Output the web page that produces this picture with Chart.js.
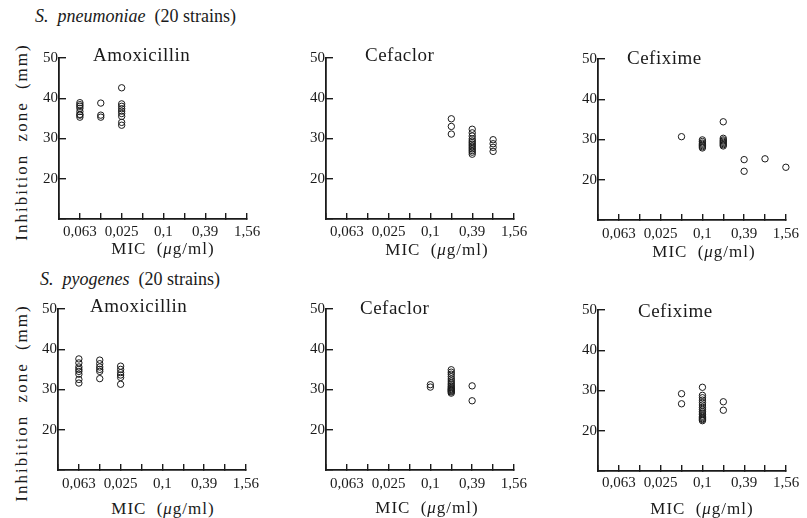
<!DOCTYPE html>
<html>
<head>
<meta charset="utf-8">
<script src="https://cdn.jsdelivr.net/npm/chart.js@4/dist/chart.umd.min.js"></script>
<style>
  html, body { margin:0; padding:0; background:#fff; }
  body { width:807px; height:518px; position:relative; overflow:hidden; font-family:"Liberation Serif","DejaVu Serif",serif; color:#1a1a1a; }
  .cv { position:absolute; }
  .txt { position:absolute; white-space:pre; line-height:1; }
  .ptitle { font-size:19px; letter-spacing:0.5px; transform:translateY(-50%); }
  .mic { font-size:17px; letter-spacing:1px; word-spacing:5px; transform:translate(-50%,-50%); }
  .ytitle { font-size:17px; letter-spacing:2px; word-spacing:6px; transform:translate(-50%,-50%) rotate(-90deg); }
  .org { font-size:18px; transform:translateY(-50%); }
</style>
</head>
<body>
<script>
// ---- tick labels ----
const micTickLabels = ['', '0,063', '', '0,025', '', '0,1', '', '0,39', '', '1,56'];
const zoneTicks = [10, 20, 30, 40, 50];

// ---- S. pneumoniae (20 strains) ----
const pnAmoxMic  = [1,1,1,1,1,1,1,1, 2,2,2, 3,3,3,3,3,3,3,3,3];
const pnAmoxZone = [38.9,38.4,38.0,37.5,36.7,36.0,35.8,35.3, 38.8,35.8,35.3, 42.6,38.6,38.0,37.4,36.8,36.2,35.5,34.0,33.3];

const pnCefaMic  = [6,6,6, 7,7,7,7,7,7,7,7,7,7,7,7,7, 8,8,8,8];
const pnCefaZone = [34.9,33.0,31.1, 32.3,31.4,30.6,29.9,29.4,29.0,28.6,28.2,27.8,27.4,27.0,26.6,26.1, 29.7,28.7,27.8,26.8];

const pnCefiMic  = [4, 5,5,5,5,5,5,5, 6,6,6,6,6,6,6,6, 7,7, 8, 9];
const pnCefiZone = [30.7, 29.9,29.5,29.1,28.8,28.5,28.2,27.9, 34.4,30.3,29.9,29.6,29.3,29.0,28.7,28.4, 25.0,22.1, 25.2, 23.1];

// ---- S. pyogenes (20 strains) ----
const pyAmoxMic  = [1,1,1,1,1,1,1,1, 2,2,2,2,2,2, 3,3,3,3,3,3];
const pyAmoxZone = [37.6,36.6,35.6,35.0,34.5,33.8,32.5,31.6, 37.3,36.4,35.6,35.0,34.5,32.7, 35.8,35.0,34.2,33.6,33.0,31.3];

const pyCefaMic  = [5,5, 6,6,6,6,6,6,6,6,6,6,6,6,6,6,6,6, 7,7];
const pyCefaZone = [31.2,30.6, 34.9,34.3,33.8,33.2,32.6,32.1,31.6,31.2,30.8,30.5,30.2,30.0,29.8,29.6,29.4,29.1, 30.9,27.2];

const pyCefiMic  = [4,4, 5,5,5,5,5,5,5,5,5,5,5,5,5,5,5,5, 6,6];
const pyCefiZone = [29.2,26.7, 30.8,28.8,28.2,27.6,27.0,26.4,25.8,25.3,24.8,24.4,24.0,23.6,23.3,23.0,22.8,22.5, 27.2,25.1];

// ---- layout ----
const PW = 188, PH = 166;
const PADL = 45, PADT = 12, PADR = 24, PADB = 28;
const INK = '#1a1a1a';

function addText(cls, x, y, html) {
  const d = document.createElement('div');
  d.className = 'txt ' + cls;
  d.style.left = x + 'px';
  d.style.top = y + 'px';
  d.innerHTML = html;
  document.body.appendChild(d);
  return d;
}

function makePanel(L, T, mic, zone, title, tLeft, tCy, micCx, micCy, xLabPad) {
  const c = document.createElement('canvas');
  c.className = 'cv';
  const w = PW + PADL + PADR, h = PH + PADT + PADB;
  c.width = w; c.height = h;
  c.style.left = (L - PADL) + 'px';
  c.style.top = (T - PADT) + 'px';
  document.body.appendChild(c);

  const pts = mic.map((m, i) => ({ x: m, y: zone[i] }));
  new Chart(c, {
    type: 'scatter',
    data: { datasets: [{ data: pts, pointStyle: 'circle', pointRadius: 3.2, pointHoverRadius: 3.2,
      borderColor: INK, backgroundColor: 'rgba(0,0,0,0)', borderWidth: 1, clip: false }] },
    options: {
      responsive: false, animation: false,
      layout: { padding: { left: 0, top: PADT, right: PADR, bottom: 0 } },
      plugins: { legend: { display: false }, tooltip: { enabled: false } },
      scales: {
        x: {
          type: 'linear', min: 0, max: 9,
          afterFit(s) { s.height = PADB; },
          grid: { display: true, drawOnChartArea: false, drawTicks: true, tickLength: -6,
                  color: INK, lineWidth: 1.4 },
          border: { display: true, color: INK, width: 1.8 },
          afterBuildTicks(s) { s.ticks = micTickLabels.map((_, i) => ({ value: i })); },
          ticks: { autoSkip: false, maxRotation: 0, padding: xLabPad, color: INK,
            font: { family: 'Liberation Serif', size: 15 },
            callback: v => micTickLabels[v] }
        },
        y: {
          type: 'linear', min: 10, max: 50,
          afterFit(s) { s.width = PADL; },
          grid: { display: true, drawOnChartArea: false, drawTicks: true, tickLength: -7,
                  color: INK, lineWidth: 1.4 },
          border: { display: true, color: INK, width: 1.8 },
          afterBuildTicks(s) { s.ticks = zoneTicks.map(v => ({ value: v })); },
          ticks: { padding: 8, color: INK, font: { family: 'Liberation Serif', size: 15 },
            callback: v => (v === 10 ? '' : String(v)) }
        }
      }
    }
  });

  addText('ptitle', tLeft, tCy, title);
  addText('mic', micCx, micCy, 'MIC (<i>μ</i>g/ml)');
}

addText('org', 35, 16, '<i>S.</i>  <i>pneumoniae</i>  (20 strains)');
addText('org', 40, 279, '<i>S.</i>  <i>pyogenes</i>  (20 strains)');
addText('ytitle', 21, 142, 'Inhibition zone (mm)');
addText('ytitle', 21, 403, 'Inhibition zone (mm)');

makePanel(59, 53, pnAmoxMic, pnAmoxZone, 'Amoxicillin', 93, 54, 163, 248, 10);
makePanel(326, 53, pnCefaMic, pnCefaZone, 'Cefaclor', 365, 54, 437, 249, 10);
makePanel(598, 54, pnCefiMic, pnCefiZone, 'Cefixime', 627, 57, 704, 251, 11);
makePanel(58, 304, pyAmoxMic, pyAmoxZone, 'Amoxicillin', 90, 305, 163, 508, 11);
makePanel(326, 304, pyCefaMic, pyCefaZone, 'Cefaclor', 360, 307, 427, 507, 11);
makePanel(598, 305, pyCefiMic, pyCefiZone, 'Cefixime', 638, 310, 702, 508, 9);
</script>
</body>
</html>
